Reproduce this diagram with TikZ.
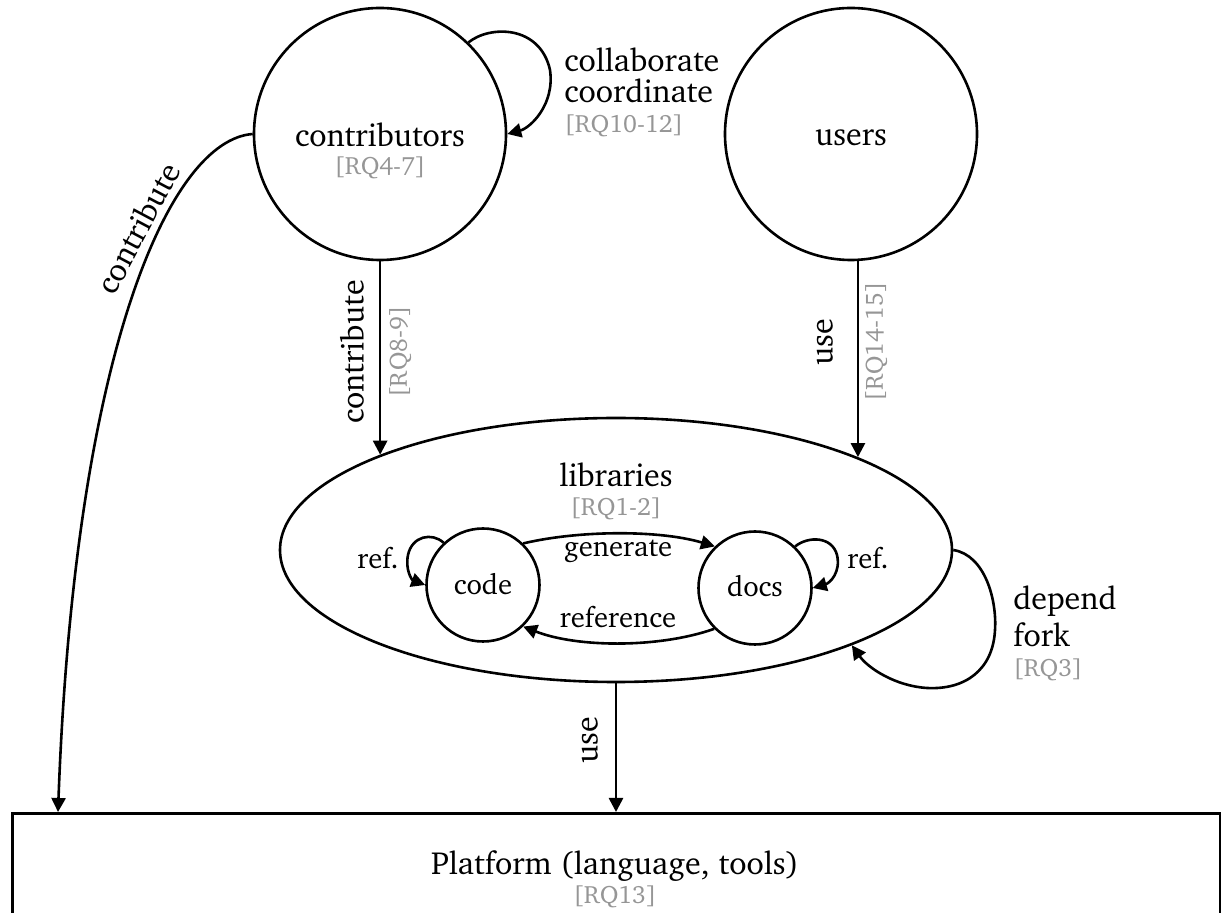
\documentclass[tikz,border=0pt]{standalone}
\usepackage[T1]{fontenc}
\renewcommand{\rmdefault}{bch}
\usetikzlibrary{shapes.geometric,arrows.meta}
\definecolor{rqgray}{RGB}{150,150,150}
\tikzset{
  big/.style={font=\fontsize{16pt}{19pt}\selectfont, inner sep=0pt},
  mid/.style={font=\fontsize{14.3pt}{17pt}\selectfont, inner sep=0pt},
  rq/.style={font=\fontsize{12.5pt}{15pt}\selectfont, text=rqgray, inner sep=0pt},
  bigcirc/.style={circle, draw, minimum size=126pt, inner sep=0pt},
  smallcirc/.style={circle, draw, minimum size=56.5pt, inner sep=0pt},
  edge/.style={->},
}
\begin{document}
\begin{tikzpicture}[x=0.5pt,y=-0.5pt,line width=1.3pt,
  >={Triangle[length=7pt,width=7pt]}]
\clip (0,0) rectangle (1221,913);
% nodes
\node[bigcirc] (contrib) at (380,134) {};
\node[big,anchor=base] (contribT) at (380,147) {contributors};
\node[rq,anchor=base] (contribRQ) at (380,175) {[RQ4-7]};
\node[bigcirc] (users) at (851,134) {};
\node[big,anchor=base] (usersT) at (851,146) {users};
\node[ellipse,draw,minimum width=336pt,minimum height=132pt,inner sep=0pt] (lib) at (616,550) {};
\node[big,anchor=base] (libT) at (616,487) {libraries};
\node[rq,anchor=base] (libRQ) at (616,516) {[RQ1-2]};
\node[smallcirc] (code) at (483,585) {};
\node[mid,anchor=base] (codeT) at (483,595) {code};
\node[smallcirc] (docs) at (755,588) {};
\node[mid,anchor=base] (docsT) at (755,597) {docs};
\node[draw,minimum width=604pt,minimum height=70pt,inner sep=0pt,anchor=north west] (plat) at (11,812) {};
\node[big,anchor=base] (platT) at (615,875) {Platform (language, tools)};
\node[rq,anchor=base] (platRQ) at (615,903) {[RQ13]};
\coordinate (pin) at (58,812);
% edges
\draw[edge] (lib.158.7 |- contrib.south) -- (lib.158.7);
\node[big,rotate=90] (l1) at (352,352) {contribute};
\node[rq,rotate=90] (l1rq) at (400,352) {[RQ8-9]};
\draw[edge] (lib.21.4 |- users.south) -- (lib.21.4);
\node[big,rotate=90] (l2) at (825,342) {use};
\node[rq,rotate=90] (l2rq) at (876,342) {[RQ14-15]};
\draw[edge] (lib.south) -- (lib.south |- plat.north);
\node[big,rotate=90] (l3) at (590,740) {use};
\draw[edge] (contrib.46) .. controls (490,25) and (540,25) .. (550,70) .. controls (555,105) and (530,128) .. (contrib.east);
\node[big,anchor=base west] (l4a) at (563,72) {collaborate};
\node[big,anchor=base west] (l4b) at (563,103) {coordinate};
\node[rq,anchor=base west] (l4c) at (563,133) {[RQ10-12]};
\draw[edge] (lib.east) .. controls (985,555) and (997,600) .. (995,630) .. controls (993,670) and (965,690) .. (927,688) .. controls (895,686) and (868,668) .. (lib.338);
\node[big,anchor=base west] (l5a) at (1012,610) {depend};
\node[big,anchor=base west] (l5b) at (1012,647) {fork};
\node[rq,anchor=base west] (l5c) at (1012,677) {[RQ3]};
\draw[edge] (code.133) .. controls (432,532) and (412,536) .. (408,555) .. controls (405,570) and (412,580) .. (code.180);
\node[mid,anchor=base] (l6) at (378,569) {ref.};
\draw[edge] (docs.46) .. controls (808,536) and (832,536) .. (837,555) .. controls (841,572) and (830,583) .. (docs.0);
\node[mid,anchor=base] (l7) at (868,569) {ref.};
\draw[edge] (code.46) .. controls (580,530) and (660,530) .. (docs.134);
\node[mid,anchor=base] (l8) at (618,557) {generate};
\draw[edge] (docs.225) .. controls (660,648) and (578,648) .. (code.314);
\node[mid,anchor=base] (l9) at (618,628) {reference};
\draw[edge] (contrib.west) .. controls (170,140) and (75,350) .. (pin);
\node[big,rotate=62] (l10) at (138,228) {contribute};
\end{tikzpicture}
\end{document}
